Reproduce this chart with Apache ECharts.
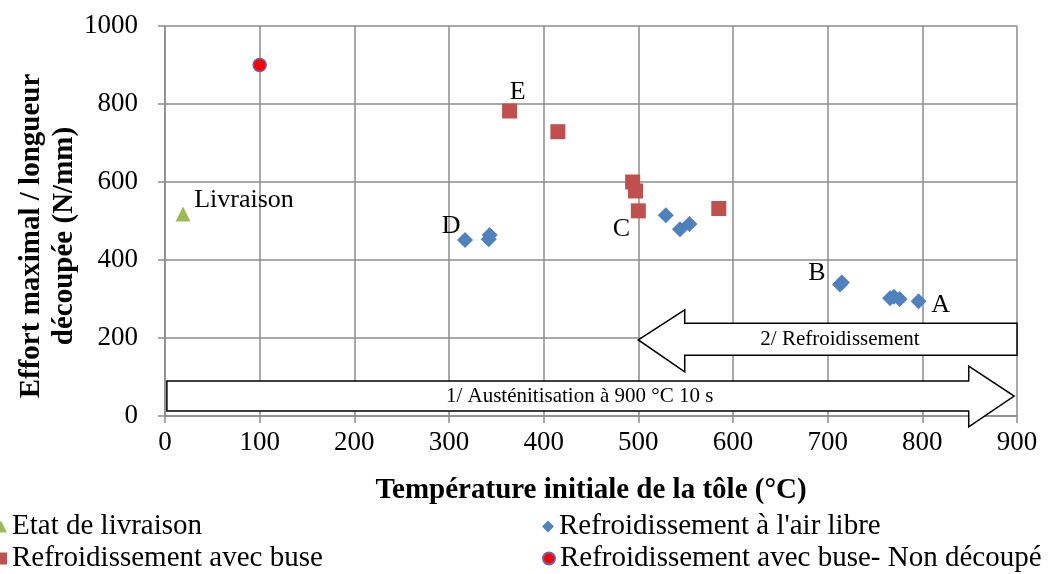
<!DOCTYPE html>
<html>
<head>
<meta charset="utf-8">
<script src="https://cdn.jsdelivr.net/npm/echarts@6/dist/echarts.min.js"></script>
<style>html,body{margin:0;padding:0;background:#fff}#c{width:1052px;height:574px}</style>
</head>
<body>
<div id="c"></div>
<script>
// ---- data ----
const seriesNames = ['Etat de livraison', "Refroidissement à l'air libre", 'Refroidissement avec buse', 'Refroidissement avec buse- Non découpé'];
const livraison = [[19, 518]];
const airLibre = [[317,451],[342,453],[343,464],[529,515],[544,479],[554,492],[713,337],[715,342],[766,302],[770,306],[776,300],[796,294]];
const avecBuse = [[364,782],[415,729],[494,600],[497,577],[500,526],[585,532]];
const nonDecoupe = [[100,900]];
const xTicks = [0,100,200,300,400,500,600,700,800,900];
const yTicks = [0,200,400,600,800,1000];
const xTitle = 'Température initiale de la tôle (°C)';
const yTitle = 'Effort maximal / longueur\ndécoupée (N/mm)';
const pointLabels = {liv: {0:'Livraison'}, air: {0:'D', 7:'B', 11:'A'}, buse: {0:'E', 4:'C'}};
// annotation arrows (in data units)
const arrowTexts = ['1/ Austénitisation à 900 °C 10 s', '2/ Refroidissement'];
const arrowShapes = [
  [[2,13],[849,13],[849,-28],[897,51],[849,128],[849,90],[2,90]],
  [[500,195],[549,272],[549,238],[900,238],[900,156],[549,156],[549,113]]
];
const arrowTextPos = [[438,51],[713,195]];

// ---- styling ----
const FONT = '"Liberation Serif", "Times New Roman", serif';
const labelOffsets = {Livraison:[61,-14], D:[-14,-14], B:[-25,-9], A:[22,4], E:[8,-19], C:[-17,18]};
function withLabels(arr, labels) {
  return arr.map((p, i) => {
    const t = labels[i];
    if (!t) return p;
    return {value: p, label: {show: true, formatter: t, position: 'inside', offset: labelOffsets[t],
      color: '#000', fontFamily: FONT, fontSize: 26}};
  });
}
const plain = v => String(v);
const legendPos = [[-5, 512], [542, 512], [-5, 544], [542, 544]];
function makeLegend(name, pos) {
  return {data: [name], orient: 'horizontal', left: pos[0], top: pos[1], padding: 0,
    itemWidth: 12, itemHeight: 12,
    textStyle: {fontFamily: FONT, fontSize: 29, color: '#000', lineHeight: 29}};
}

const chart = echarts.init(document.getElementById('c'));
chart.setOption({
  animation: false,
  backgroundColor: '#fff',
  grid: {left: 165, right: 35, top: 26, bottom: 158, containLabel: false},
  xAxis: {
    type: 'value', min: xTicks[0], max: xTicks[xTicks.length-1], interval: 100,
    name: xTitle, nameLocation: 'middle', nameGap: 60,
    nameTextStyle: {fontFamily: FONT, fontSize: 29, fontWeight: 'bold', color: '#000'},
    axisLine: {show: true, lineStyle: {color: '#8c8c8c', width: 1.5}},
    axisTick: {show: true, length: 7, lineStyle: {color: '#8c8c8c', width: 1.5}},
    axisLabel: {fontFamily: FONT, fontSize: 27, color: '#000', margin: 13, formatter: plain},
    splitLine: {show: true, lineStyle: {color: '#8c8c8c', width: 1.5}}
  },
  yAxis: {
    type: 'value', min: yTicks[0], max: yTicks[yTicks.length-1], interval: 200,
    axisLine: {show: true, lineStyle: {color: '#8c8c8c', width: 1.5}},
    axisTick: {show: true, length: 7, lineStyle: {color: '#8c8c8c', width: 1.5}},
    axisLabel: {fontFamily: FONT, fontSize: 27, color: '#000', margin: 27, formatter: plain},
    splitLine: {show: true, lineStyle: {color: '#8c8c8c', width: 1.5}}
  },
  graphic: [{
    type: 'text', x: 48, y: 236, rotation: Math.PI/2,
    style: {text: yTitle, font: 'bold 29px ' + FONT, fill: '#000', align: 'center', verticalAlign: 'middle', lineHeight: 33}
  }],
  legend: seriesNames.map((n, i) => makeLegend(n, legendPos[i])),
  series: [
    {type: 'custom', name: 'arrows', z: 1, silent: true, clip: false,
     data: arrowTextPos,
     renderItem: function (params, api) {
       const i = params.dataIndex;
       const pts = arrowShapes[i].map(p => api.coord(p));
       const c = api.coord(arrowTextPos[i]);
       return {type: 'group', children: [
         {type: 'polygon', shape: {points: pts}, style: {fill: '#fff', stroke: '#000', lineWidth: 1.5}},
         {type: 'text', x: c[0], y: c[1], style: {text: arrowTexts[i], font: '21px ' + FONT, fill: '#000', align: 'center', verticalAlign: 'middle'}}
       ]};
     }},
    {type: 'scatter', name: seriesNames[0], z: 3, symbol: 'triangle', symbolSize: 15,
     itemStyle: {color: '#9BBB59', opacity: 1}, data: withLabels(livraison, pointLabels.liv)},
    {type: 'scatter', name: seriesNames[1], z: 3, symbol: 'diamond', symbolSize: 16,
     itemStyle: {color: '#4F81BD', opacity: 1}, data: withLabels(airLibre, pointLabels.air)},
    {type: 'scatter', name: seriesNames[2], z: 3, symbol: 'rect', symbolSize: 15,
     itemStyle: {color: '#C0504D', opacity: 1}, data: withLabels(avecBuse, pointLabels.buse)},
    {type: 'scatter', name: seriesNames[3], z: 3, symbol: 'circle', symbolSize: 13,
     itemStyle: {color: '#FF0000', borderColor: '#7060A8', borderWidth: 1.5, opacity: 1}, data: nonDecoupe}
  ]
});
</script>
</body>
</html>
